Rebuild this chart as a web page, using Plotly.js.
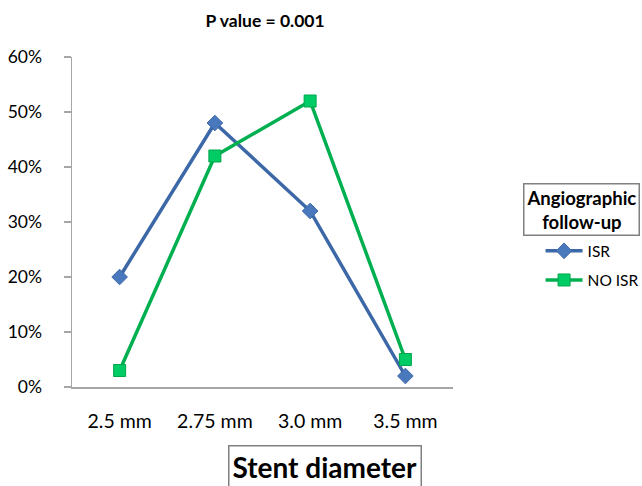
<!DOCTYPE html>
<html>
<head>
<meta charset="utf-8">
<script src="https://cdn.plot.ly/plotly-3.0.1.min.js"></script>
<style>html,body{margin:0;padding:0;background:#fff}#chart{width:642px;height:486px}</style>
</head>
<body>
<div id="chart"></div>
<script>
const categories = ["2.5 mm", "2.75 mm", "3.0 mm", "3.5 mm"];
const isr = [0.20, 0.48, 0.32, 0.02];
const noIsr = [0.03, 0.42, 0.52, 0.05];
const yTicks = [0, 0.1, 0.2, 0.3, 0.4, 0.5, 0.6];
const yTickText = ["0%", "10%", "20%", "30%", "40%", "50%", "60%"];

const FONT = "Lato, 'Open Sans', sans-serif";

const traces = [
  {
    x: categories, y: isr, name: "ISR", type: "scatter", mode: "lines+markers",
    legendgroup: "a",
    line: {color: "#3D68A8", width: 3.5},
    marker: {symbol: "diamond", size: 12, color: "#4A78BD", line: {color: "#3D68A8", width: 1}}
  },
  {
    x: categories, y: noIsr, name: "NO ISR", type: "scatter", mode: "lines+markers",
    legendgroup: "b",
    line: {color: "#00B050", width: 3.5},
    marker: {symbol: "square", size: 12, color: "#00CC66", line: {color: "#00A64A", width: 1}}
  }
];

const layout = {
  width: 642, height: 486,
  margin: {l: 72, r: 189, t: 57, b: 99, autoexpand: false},
  paper_bgcolor: "#fff", plot_bgcolor: "#fff",
  font: {family: FONT, size: 19, color: "#000"},
  title: {text: "<b>P value = 0.001</b>", font: {family: FONT, size: 17.5, color: "#000"},
          x: 0.413, xanchor: "center", y: 0.958, yanchor: "middle"},
  showlegend: true,
  legend: {xref: "container", yref: "container", x: 0.842, xanchor: "left", y: 0.518, yanchor: "top",
           font: {family: FONT, size: 15.5, color: "#000"},
           itemwidth: 37,
           tracegroupgap: 6, bgcolor: "rgba(0,0,0,0)"},
  xaxis: {
    type: "category", range: [-0.5, 3.5],
    showgrid: false, zeroline: false,
    showline: true, linecolor: "#A6A6A6", linewidth: 1.5,
    ticks: "", ticklen: 0, ticklabelstandoff: 16,
    tickfont: {family: FONT, size: 19.5, color: "#000"}
  },
  yaxis: {
    range: [0, 0.6], tickvals: yTicks, ticktext: yTickText,
    showgrid: false, zeroline: false,
    showline: true, linecolor: "#A6A6A6", linewidth: 1.5,
    ticks: "outside", ticklen: 7, tickcolor: "#A6A6A6", tickwidth: 1.5,
    ticklabelstandoff: 18,
    tickfont: {family: FONT, size: 17.5, color: "#000"}
  },
  annotations: [
    {
      text: "<b>Stent diameter</b>", xref: "paper", yref: "paper",
      x: 0.663, y: -0.24, xanchor: "center", yanchor: "middle", showarrow: false,
      font: {family: FONT, size: 28, color: "#000"},
      bordercolor: "#808080", borderwidth: 1.5, borderpad: 3, bgcolor: "#fff"
    },
    {
      text: "<b>Angiographic<br>follow-up</b>", xref: "paper", yref: "paper",
      x: 1.338, y: 0.539, xanchor: "center", yanchor: "middle", showarrow: false,
      font: {family: FONT, size: 18.5, color: "#000"},
      bordercolor: "#808080", borderwidth: 1.5, borderpad: 2, bgcolor: "#fff"
    }
  ]
};

Plotly.newPlot("chart", traces, layout, {displayModeBar: false, staticPlot: true});
</script>
</body>
</html>
